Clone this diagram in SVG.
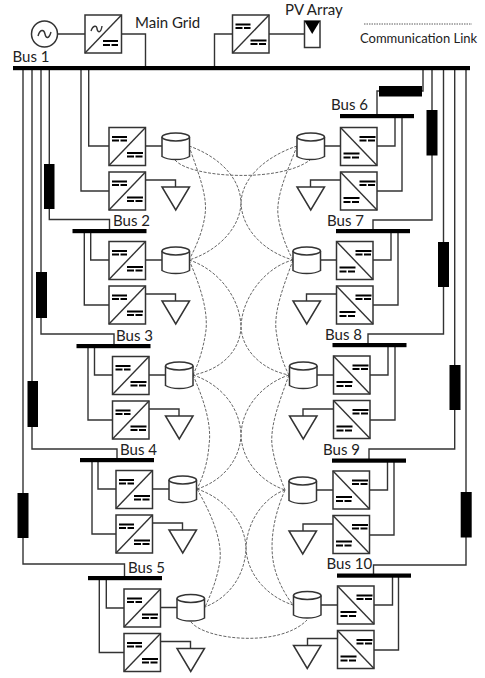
<svg xmlns="http://www.w3.org/2000/svg" width="485" height="678" viewBox="0 0 485 678">
<style>
.w{fill:none;stroke:#333;stroke-width:1.4}
.d{fill:none;stroke:#666;stroke-width:1;stroke-dasharray:3 1.5}
.b{fill:#fff;stroke:#333;stroke-width:1.5}
.k{fill:#000}
.t{font-family:"Lato","Liberation Sans",sans-serif;font-size:15px;fill:#222}
.m{fill:none;stroke:#000;stroke-width:2}
.md{fill:none;stroke:#000;stroke-width:2;stroke-dasharray:7 1.5}
</style>
<defs>
<g id="cl"><rect class="b" width="36.5" height="38"/><path class="w" d="M0 38L36.500 0"/><path class="m" d="M3 9.500H18M18 25.500H34"/><path class="md" d="M3 13H18M18 29H34"/></g>
<g id="cr"><rect class="b" width="36.500" height="38"/><path class="w" d="M0 0L36.500 38"/><path class="m" d="M19 9.500H35M3 26H19"/><path class="md" d="M19 13H35M3 30H19"/></g>
<g id="cy"><path class="b" d="M0 4V23.500C6 27.500 21.500 27.500 27.500 23.500V4"/><ellipse class="b" cx="13.750" cy="4" rx="13.750" ry="4"/></g>
<path id="tr" class="b" d="M0 0H27.500L13.750 23Z"/>
</defs>
<g id="connectors">
<path class="w" d="M58 34H85M121 34H145.500V68M214.500 68V34H232M269 34H304"/>
<path class="w" d="M49.300 68V219.500H109.500V231M41 68V334H114V346M32 68V449H117V460M23 68V564H124.500V578"/>
<path class="w" d="M423 68V91H377V116M432 68V220H373V231M443.500 68V334H368V345M454.700 68V449H369V460M466 68V565H373.500V575.500"/>
<path class="w" d="M88.700 68V146H109M81 68V191H109M90.700 231V260H109M84.300 231V305H109M94.500 346V375H112.500M88 346V420H112.500M98 460V489H116M92 460V534H116M106.300 578V608H124M99.300 578V652.500H124"/>
<path class="w" d="M145.500 146H162M145.500 180H175.500V187M145.500 260H162M145.500 294H175.500V301M149 375H165.500M149 409H179V416M152.500 489H169M152.500 523H182.500V530M160.500 607.500H177M160.500 641.500H190.500V648.500"/>
<path class="w" d="M377 146H395V116M377 191H402V116M373 260H391V231M373 305H398V231M370 375H388V345M370 420H395V345M369.500 490H387.500V460.500M369.500 535H394V460.500M374 605H392.500V575.500M374 650H398.500V575.500"/>
<path class="w" d="M340.500 146H324M340.500 180H310.500V187M336.500 260H320.500M336.500 294H306.500V301M333.500 375H317M333.500 409H303V416M333 490H316.500M333 524H303V531M337.500 605H321M337.500 638.500H307.500V645.500"/>
<path class="d" d="M175 160C190 178 280 183 310 160M191 622C205 640 280 648 307 620"/>
<path class="d" d="M189 146C197 170 208 195 205 215C203 230 197 245 189 260M189 260C200 285 208 310 206 330C204 345 200 360 193 375M193 375C204 400 212 425 209 445C208 460 204 475 197 489M197 489C212 515 222 540 220 560C218 575 213 590 205 607"/>
<path class="d" d="M297 146C288 170 276 195 278 215C280 230 285 245 293 260M293 260C284 285 274 310 276 330C278 345 281 360 289 375M289 375C280 400 270 425 272 445C274 460 279 475 285 490M285 490C274 515 270 540 273 560C275 575 283 592 293 605"/>
<path class="d" d="M189 146C215 155 240 175 241 203C242 230 265 252 293 260M297 146C270 155 242 175 241 203C240 230 215 252 189 260"/>
<path class="d" d="M189 260C215 268 240 295 241 327C242 350 262 370 289 375M293 260C268 266 242 295 241 327C240 352 220 370 193 375"/>
<path class="d" d="M193 375C218 383 240 405 241 435C242 462 262 482 285 490M289 375C265 383 242 405 241 435C240 462 220 482 197 489"/>
<path class="d" d="M197 489C222 497 245 520 246 548C247 575 268 597 293 605M285 490C265 497 247 520 246 548C245 575 230 597 205 607"/>
<path d="M364 24H472" fill="none" stroke="#333" stroke-width=".8" stroke-dasharray="1.500 1"/>
</g>
<g id="line-boxes">
<rect class="k" x="44" y="164" width="10.500" height="45"/>
<rect class="k" x="36" y="272" width="11" height="46"/>
<rect class="k" x="27.500" y="381" width="10.500" height="46"/>
<rect class="k" x="17.500" y="493" width="11" height="45"/>
<rect class="k" x="379" y="86" width="43" height="10.500"/>
<rect class="k" x="426.500" y="110" width="11" height="45.500"/>
<rect class="k" x="438" y="242" width="11" height="45"/>
<rect class="k" x="449.500" y="365" width="11" height="45"/>
<rect class="k" x="460.700" y="492" width="11" height="45.500"/>
</g>
<g id="generator"><circle class="b" cx="44.500" cy="34" r="13"/><path class="w" stroke-width="1.800" d="M38 36C40 29 44 29 45 34C46 39 49 39 51 32"/></g>
<g id="grid-converter"><rect class="b" x="85" y="15" width="36.500" height="38"/><path class="w" d="M85 53L121.500 15"/><path class="w" d="M91 31C93 25 97 25 97 29C98 33 101 33 102 26"/><path class="m" d="M103 41H118"/><path class="md" d="M103 45H118"/></g>
<g id="pv-converter"><use href="#cl" x="232.500" y="15"/></g>
<g id="pv-array"><rect class="b" x="304.500" y="21" width="15.500" height="26.500"/><path class="k" d="M304.500 21H320L312.200 34Z"/></g>
<g id="bus-1"><rect class="k" x="13" y="66" width="457" height="4.200"/><text class="t" x="12.500" y="61.500">Bus 1</text></g>
<g id="bus-2"><rect class="k" x="72.500" y="229" width="74" height="4.200"/><text class="t" x="113" y="226">Bus 2</text></g>
<g id="bus-3"><rect class="k" x="76.500" y="344" width="74" height="4.200"/><text class="t" x="116" y="341">Bus 3</text></g>
<g id="bus-4"><rect class="k" x="80" y="458" width="74" height="4.200"/><text class="t" x="120" y="455">Bus 4</text></g>
<g id="bus-5"><rect class="k" x="88" y="576" width="74" height="4.200"/><text class="t" x="128" y="573">Bus 5</text></g>
<g id="bus-6"><rect class="k" x="340" y="114" width="74" height="4.200"/><text class="t" x="331" y="109.500">Bus 6</text></g>
<g id="bus-7"><rect class="k" x="336" y="229" width="74" height="4.200"/><text class="t" x="327" y="225.500">Bus 7</text></g>
<g id="bus-8"><rect class="k" x="332.500" y="343" width="74" height="4.200"/><text class="t" x="325" y="339.500">Bus 8</text></g>
<g id="bus-9"><rect class="k" x="332" y="458.500" width="74" height="4.200"/><text class="t" x="323" y="454.500">Bus 9</text></g>
<g id="bus-10"><rect class="k" x="337" y="573.500" width="74" height="4.200"/><text class="t" x="326.500" y="568.500">Bus 10</text></g>
<g id="node-1a"><use href="#cl" x="109" y="127.500"/></g><g id="node-1b"><use href="#cl" x="109" y="172"/></g><g id="store-1"><use href="#cy" x="162" y="133"/></g><g id="load-1"><use href="#tr" x="162" y="187"/></g>
<g id="node-2a"><use href="#cl" x="109" y="241.500"/></g><g id="node-2b"><use href="#cl" x="109" y="286"/></g><g id="store-2"><use href="#cy" x="162" y="247"/></g><g id="load-2"><use href="#tr" x="162" y="301"/></g>
<g id="node-3a"><use href="#cl" x="112.500" y="356.500"/></g><g id="node-3b"><use href="#cl" x="112.500" y="401"/></g><g id="store-3"><use href="#cy" x="165.500" y="362"/></g><g id="load-3"><use href="#tr" x="165.500" y="416"/></g>
<g id="node-4a"><use href="#cl" x="116" y="470.500"/></g><g id="node-4b"><use href="#cl" x="116" y="515"/></g><g id="store-4"><use href="#cy" x="169" y="476"/></g><g id="load-4"><use href="#tr" x="169" y="530"/></g>
<g id="node-5a"><use href="#cl" x="124" y="589"/></g><g id="node-5b"><use href="#cl" x="124" y="633.500"/></g><g id="store-5"><use href="#cy" x="177" y="594.500"/></g><g id="load-5"><use href="#tr" x="177" y="648.500"/></g>
<g id="node-6a"><use href="#cr" x="340.500" y="127.500"/></g><g id="node-6b"><use href="#cr" x="340.500" y="172"/></g><g id="store-6"><use href="#cy" x="297" y="133"/></g><g id="load-6"><use href="#tr" x="297" y="187"/></g>
<g id="node-7a"><use href="#cr" x="336.500" y="241.500"/></g><g id="node-7b"><use href="#cr" x="336.500" y="286"/></g><g id="store-7"><use href="#cy" x="293" y="247"/></g><g id="load-7"><use href="#tr" x="293" y="301"/></g>
<g id="node-8a"><use href="#cr" x="333.500" y="356"/></g><g id="node-8b"><use href="#cr" x="333.500" y="400.500"/></g><g id="store-8"><use href="#cy" x="289.500" y="362"/></g><g id="load-8"><use href="#tr" x="289.500" y="416"/></g>
<g id="node-9a"><use href="#cr" x="333" y="471"/></g><g id="node-9b"><use href="#cr" x="333" y="515.500"/></g><g id="store-9"><use href="#cy" x="289" y="477"/></g><g id="load-9"><use href="#tr" x="289" y="531"/></g>
<g id="node-10a"><use href="#cr" x="337.500" y="586"/></g><g id="node-10b"><use href="#cr" x="337.500" y="630.500"/></g><g id="store-10"><use href="#cy" x="293.500" y="591.500"/></g><g id="load-10"><use href="#tr" x="293.500" y="645.500"/></g>
<text class="t" x="135" y="27.500">Main Grid</text>
<text class="t" x="285" y="15">PV Array</text>
<text class="t" style="font-size:13px" x="360" y="43">Communication Link</text>
</svg>
